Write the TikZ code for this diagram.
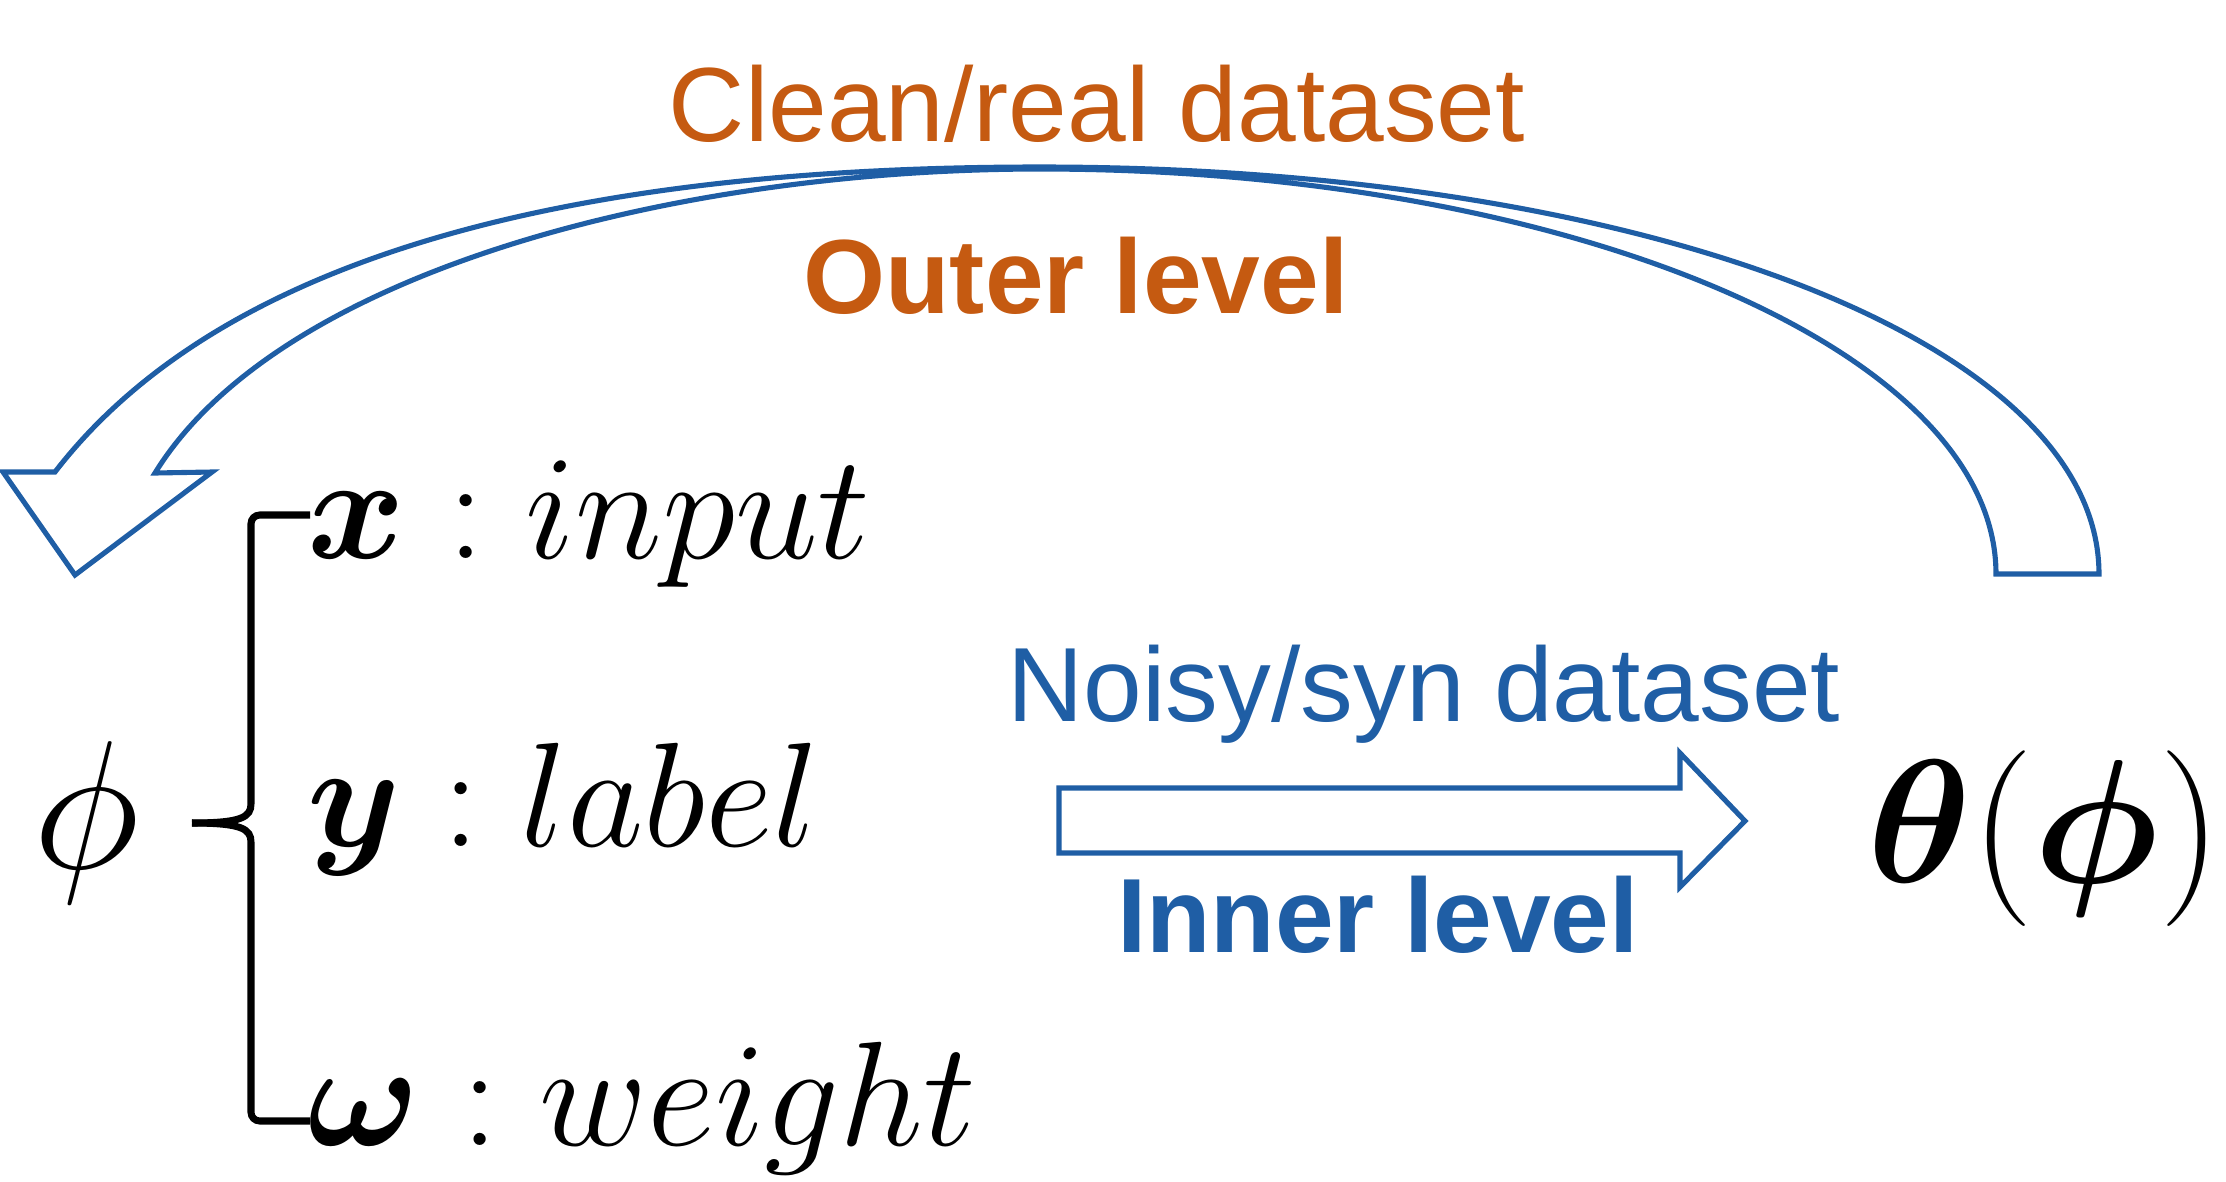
\RequirePackage{fix-cm}
\documentclass[tikz,border=0pt]{standalone}
\usepackage{amsmath}
\usepackage{bm}
\usepackage{fontspec}
\setsansfont{Liberation Sans}
\usepackage{tikz}
\usetikzlibrary{shapes,arrows}
\definecolor{outerorange}{RGB}{197,90,17}
\definecolor{innerblue}{RGB}{31,94,165}
\tikzset{
	dataset/.style    = {font=\sffamily\fontsize{30}{36}\selectfont, inner sep=0pt, anchor=base},
	levelname/.style  = {font=\sffamily\bfseries\fontsize{30}{36}\selectfont, inner sep=0pt, anchor=base},
	param/.style      = {font=\fontsize{42.3}{50}\selectfont, inner sep=0pt, anchor=base west},
	symb/.style       = {inner sep=0pt, anchor=base},
	bigarrow/.style   = {draw=innerblue, line width=1.45pt, line join=miter},
	bracestroke/.style = {draw, line width=2pt, rounded corners=2.5pt}
}
\newcommand{\paramitem}[2]{$\bm{#1} : #2$}

\begin{document}
\begin{tikzpicture}[x=0.01cm, y=-0.01cm]
	\useasboundingbox (0,0) rectangle (2226,1181);
	\draw
	% names of the two levels
	node at (1097,141)[dataset, text=outerorange] (clean) {Clean/real dataset}
	node at (1076,313)[levelname, text=outerorange] (outer) {Outer level}
	node at (1424,721)[dataset, text=innerblue] (noisy) {Noisy/syn dataset}
	node at (1378,952)[levelname, text=innerblue] (inner) {Inner level}
	;
	
	\draw
	% the variables
	node at (86,868)[symb, font=\fontsize{52}{60}\selectfont] (phi) {$\phi$}
	node at (307,558)[param] (x) {\paramitem{x}{input}}
	node at (307,846)[param] (y) {\paramitem{y}{label}}
	node at (307,1145)[param] (w) {\paramitem{\omega}{weight}}
	node at (2222,882)[symb, anchor=base east, font=\fontsize{50}{58}\selectfont] (theta) {$\bm{\theta}(\bm{\phi})$}
	;
	
	\draw[bracestroke] (310,515) -- (251,515) -- (251,795) .. controls (251,817) and (242,823) .. (192,823);
	\draw[bracestroke] (310,1121) -- (251,1121) -- (251,851) .. controls (251,829) and (242,823) .. (192,823);
	
	% inner level arrow
	\draw[bigarrow] (1059,788) -- (1680,788) -- (1680,753) -- (1745,821)
		-- (1680,887) -- (1680,853) -- (1059,853) -- cycle;
	
	% outer level arrow
	\draw[bigarrow] (2099,574) .. controls (2099,342) and (1644,167) .. (1040,167)
		.. controls (600,167) and (230,245) .. (55,472)
		-- (3,472) -- (75,575) -- (212,472) -- (155,473)
		.. controls (280,270) and (680,169) .. (1040,169)
		.. controls (1568,169) and (1996,350) .. (1996,574) -- cycle;
\end{tikzpicture}
\end{document}
